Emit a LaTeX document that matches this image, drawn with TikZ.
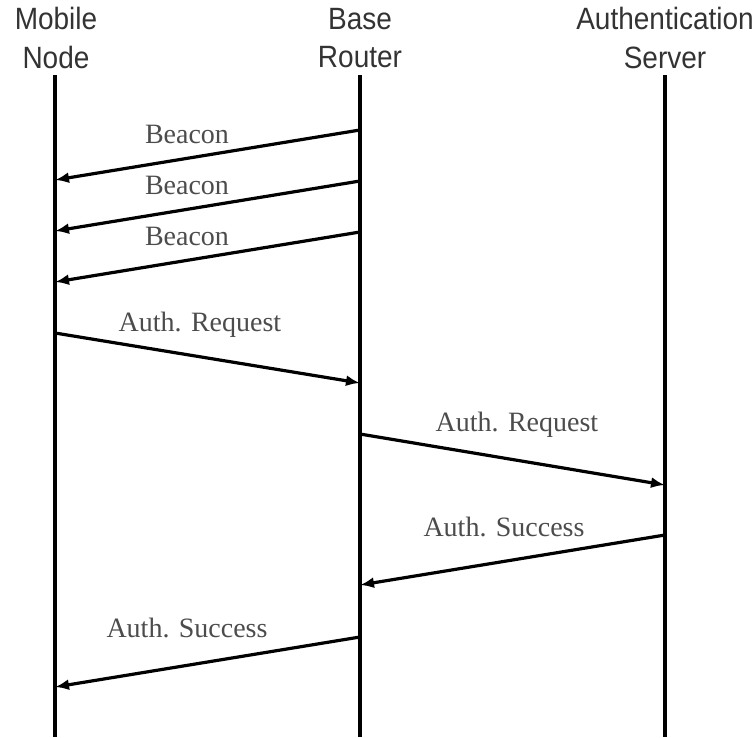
\documentclass[tikz,border=0pt]{standalone}
\usepackage{fontspec}
\setmainfont{Liberation Serif}
\newfontfamily\headfont{Liberation Sans}
\usetikzlibrary{arrows.meta}
\tikzset{
  lifeline/.style={line width=3.2pt},
  msg/.style={line width=3.2pt,-{Latex[length=14pt,width=11pt]}},
  head/.style={align=center,inner sep=0pt,font=\headfont\fontsize{28}{35}\selectfont,text=black!80,yscale=1.1},
  lbl/.style={inner sep=0pt,font=\fontsize{28}{32}\selectfont,text=black!70}
}
\begin{document}
\begin{tikzpicture}[x=1pt,y=-1pt]
        \useasboundingbox (0,0) rectangle (755,737);
        \node[head] (mobile) at (56,38) {Mobile\\Node};
        \node[head] (router) at (360,38) {Base\\Router};
        \node[head] (server) at (665,38) {Authentication\\Server};
        \foreach \n/\x in {mobile/55,router/360,server/665}{
            \coordinate (\n-top) at (\x,75);
            \coordinate (\n-end) at (\x,737);
            \draw[lifeline] (\n-top) -- (\n-end);
        }
        % messages: number / from x / from y / to x / to y / label x / label y / text
        \foreach \i/\xa/\ya/\xb/\yb/\lx/\ly/\t in {
            1/360/130/55/180/187/134/Beacon,
            2/360/181/55/231/187/185/Beacon,
            3/360/232/55/282/187/236/Beacon,
            4/55/333/360/383/200/325/Auth. Request,
            5/360/434/665/485/517/425/Auth. Request,
            6/665/535/360/585/504/527/Auth. Success,
            7/360/637/55/687/187/628/Auth. Success}{
            \coordinate (m\i-from) at (\xa,\ya);
            \coordinate (m\i-to) at (\xb,\yb);
            \draw[msg] (m\i-from) -- (m\i-to);
            \node[lbl] (l\i) at (\lx,\ly) {\t};
        }
    \end{tikzpicture}
\end{document}
